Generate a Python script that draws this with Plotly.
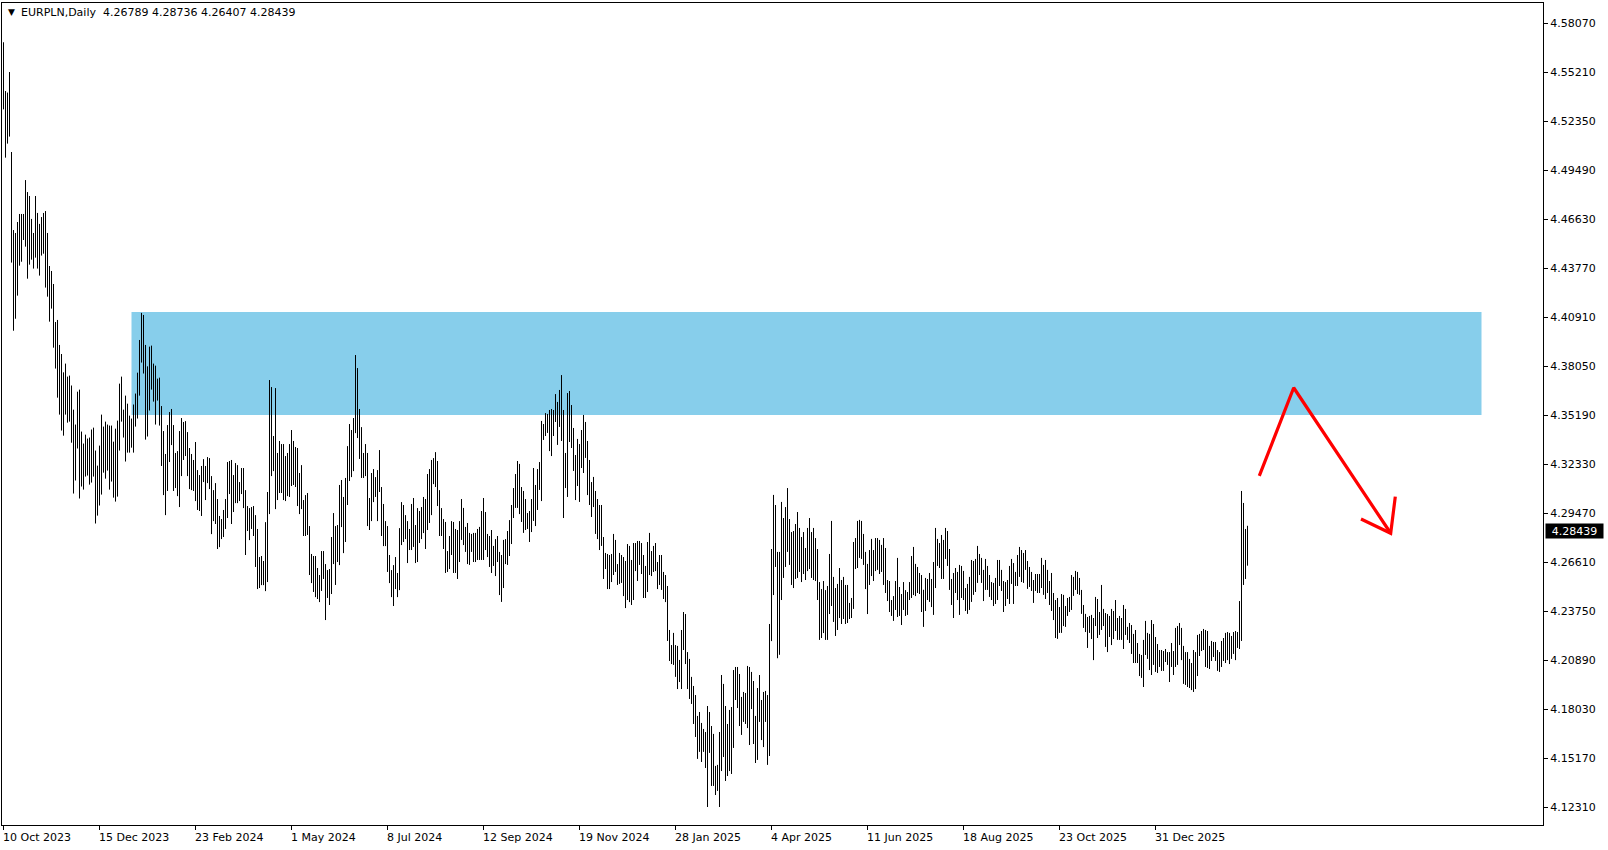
import plotly.graph_objects as go

# ---------------- data ----------------
symbol_title = "EURPLN,Daily"
last_ohlc = [4.26789, 4.28736, 4.26407, 4.28439]

highs = [
    # bars 0-78
    4.5698, 4.5413, 4.5404, 4.5524, 4.5057, 4.4601, 4.4584, 4.4648, 4.4695, 4.4695,
    4.4695, 4.4893, 4.4823, 4.4800, 4.4666, 4.4584, 4.4800, 4.4701, 4.4637, 4.4677,
    4.4701, 4.4712, 4.4584, 4.4391, 4.4362, 4.4286, 4.4064, 4.4076, 4.3930, 4.3877,
    4.3770, 4.3821, 4.3745, 4.3751, 4.3693, 4.3552, 4.3465, 4.3657, 4.3669, 4.3424,
    4.3354, 4.3406, 4.3383, 4.3389, 4.3436, 4.3447, 4.3313, 4.3225, 4.3342, 4.3523,
    4.3453, 4.3482, 4.3465, 4.3459, 4.3459, 4.3365, 4.3441, 4.3488, 4.3704, 4.3745,
    4.3552, 4.3634, 4.3587, 4.3517, 4.3500, 4.3582, 4.3646, 4.3768, 4.3959, 4.4117,
    4.4105, 4.3930, 4.3805, 4.3920, 4.3926, 4.3821, 4.3809, 4.3733, 4.3739,
    # bars 79-153
    4.3573, 4.3427, 4.3293, 4.3462, 4.3538, 4.3556, 4.3462, 4.3299, 4.3310, 4.3427,
    4.3503, 4.3480, 4.3485, 4.3421, 4.3328, 4.3293, 4.3258, 4.3363, 4.3199, 4.3170,
    4.3223, 4.3263, 4.3223, 4.3275, 4.3269, 4.3164, 4.3082, 4.3123, 4.3030, 4.2931,
    4.2913, 4.2966, 4.3030, 4.3246, 4.3252, 4.3258, 4.3170, 4.3240, 4.3228, 4.3129,
    4.3211, 4.3211, 4.3082, 4.2989, 4.2977, 4.2983, 4.2989, 4.2936, 4.2855, 4.2691,
    4.2697, 4.2668, 4.2895, 4.3071, 4.3725, 4.3684, 4.3398, 4.3678, 4.3299, 4.3369,
    4.3351, 4.3351, 4.3281, 4.3299, 4.3351, 4.3433, 4.3369, 4.3334, 4.3328, 4.3182,
    4.3228, 4.3024, 4.3053, 4.3065, 4.2872,
    # bars 154-228
    4.2709, 4.2697, 4.2697, 4.2627, 4.2586, 4.2726, 4.2726, 4.2650, 4.2615, 4.2621,
    4.2808, 4.2948, 4.2872, 4.2878, 4.3112, 4.3141, 4.3042, 4.3153, 4.3339, 4.3468,
    4.3433, 4.3503, 4.3871, 4.3795, 4.3556, 4.3450, 4.3299, 4.3351, 4.3299, 4.3036,
    4.3182, 4.3205, 4.3158, 4.3199, 4.3316, 4.3100, 4.3001, 4.2901, 4.2872, 4.2703,
    4.2615, 4.2644, 4.2691, 4.2598, 4.2860, 4.3012, 4.2995, 4.2936, 4.2901, 4.2855,
    4.3001, 4.3036, 4.2878, 4.2977, 4.2960, 4.2983, 4.3042, 4.3030, 4.3176, 4.3205,
    4.3258, 4.3269, 4.3304, 4.3252, 4.3082, 4.2977, 4.2913, 4.2896, 4.2726, 4.2814,
    4.2901, 4.2896, 4.2855, 4.2849, 4.2901,
    # bars 229-308
    4.3030, 4.2978, 4.2867, 4.2890, 4.2832, 4.2826, 4.2832, 4.2832, 4.2855, 4.2867,
    4.2960, 4.3036, 4.2954, 4.2826, 4.2814, 4.2849, 4.2756, 4.2796, 4.2814, 4.2721,
    4.2703, 4.2791, 4.2796, 4.2843, 4.2907, 4.2995, 4.3094, 4.3176, 4.3252, 4.3235,
    4.3100, 4.3077, 4.3030, 4.2948, 4.2960, 4.3030, 4.3211, 4.3112, 4.3205, 4.3246,
    4.3486, 4.3468, 4.3532, 4.3527, 4.3550, 4.3556, 4.3550, 4.3643, 4.3597, 4.3667,
    4.3754, 4.3550, 4.3299, 4.3649, 4.3661, 4.3579, 4.3445, 4.3287, 4.3381, 4.3351,
    4.3433, 4.3521, 4.3480, 4.3369, 4.3258, 4.3129, 4.3159, 4.3077, 4.3030, 4.2995,
    4.2995, 4.2808, 4.2715, 4.2709, 4.2703, 4.2709, 4.2826, 4.2791, 4.2650, 4.2715,
    # bars 309-383
    4.2703, 4.2691, 4.2668, 4.2767, 4.2756, 4.2674, 4.2773, 4.2773, 4.2785, 4.2785,
    4.2773, 4.2703, 4.2639, 4.2779, 4.2832, 4.2726, 4.2756, 4.2773, 4.2662, 4.2703,
    4.2703, 4.2604, 4.2586, 4.2522, 4.2265, 4.2177, 4.2248, 4.2177, 4.2172, 4.2090,
    4.2265, 4.2370, 4.2358, 4.2136, 4.2096, 4.1991, 4.1938, 4.1885, 4.1763, 4.1786,
    4.1722, 4.1687, 4.1669, 4.1821, 4.1786, 4.1704, 4.1658, 4.1471, 4.1477, 4.1669,
    4.2002, 4.1950, 4.1821, 4.1716, 4.1798, 4.1815, 4.2031, 4.2049, 4.2049, 4.2008,
    4.1874, 4.1903, 4.1897, 4.2055, 4.2049, 4.2020, 4.1967, 4.1763, 4.1926, 4.2002,
    4.1856, 4.1903, 4.1909, 4.1885, 4.2300,
    # bars 384-463
    4.2738, 4.3054, 4.2995, 4.2721, 4.2721, 4.3013, 4.2919, 4.2983, 4.3094, 4.2913,
    4.2837, 4.2843, 4.2884, 4.2954, 4.2861, 4.2808, 4.2837, 4.2744, 4.2861, 4.2919,
    4.2837, 4.2861, 4.2802, 4.2738, 4.2545, 4.2504, 4.2551, 4.2498, 4.2522, 4.2709,
    4.2902, 4.2575, 4.2510, 4.2534, 4.2627, 4.2557, 4.2575, 4.2528, 4.2528, 4.2423,
    4.2452, 4.2779, 4.2802, 4.2902, 4.2908, 4.2902, 4.2826, 4.2721, 4.2651, 4.2732,
    4.2797, 4.2732, 4.2802, 4.2802, 4.2791, 4.2762, 4.2802, 4.2744, 4.2557, 4.2551,
    4.2440, 4.2463, 4.2551, 4.2686, 4.2516, 4.2475, 4.2545, 4.2498, 4.2487, 4.2545,
    4.2697, 4.2750, 4.2651, 4.2633, 4.2598, 4.2586, 4.2500, 4.2569, 4.2563, 4.2598,
    # bars 464-543
    4.2563, 4.2662, 4.2861, 4.2797, 4.2773, 4.2820, 4.2791, 4.2861, 4.2843, 4.2738,
    4.2563, 4.2598, 4.2627, 4.2604, 4.2645, 4.2639, 4.2610, 4.2510, 4.2534, 4.2575,
    4.2674, 4.2668, 4.2680, 4.2756, 4.2709, 4.2686, 4.2616, 4.2680, 4.2639, 4.2586,
    4.2545, 4.2540, 4.2569, 4.2674, 4.2674, 4.2616, 4.2551, 4.2545, 4.2557, 4.2639,
    4.2680, 4.2656, 4.2604, 4.2703, 4.2750, 4.2732, 4.2715, 4.2732, 4.2668, 4.2633,
    4.2604, 4.2557, 4.2592, 4.2592, 4.2592, 4.2686, 4.2645, 4.2674, 4.2616, 4.2551,
    4.2598, 4.2481, 4.2440, 4.2452, 4.2399, 4.2475, 4.2470, 4.2405, 4.2452, 4.2458,
    4.2586, 4.2575, 4.2610, 4.2604, 4.2569, 4.2499, 4.2411, 4.2359, 4.2341, 4.2347,
    # bars 544-622
    4.2353, 4.2335, 4.2458, 4.2446, 4.2370, 4.2528, 4.2388, 4.2364, 4.2358, 4.2347,
    4.2388, 4.2376, 4.2440, 4.2335, 4.2347, 4.2335, 4.2411, 4.2388, 4.2283, 4.2306,
    4.2294, 4.2242, 4.2265, 4.2189, 4.2125, 4.2119, 4.2207, 4.2318, 4.2248, 4.2242,
    4.2323, 4.2300, 4.2224, 4.2183, 4.2148, 4.2148, 4.2142, 4.2154, 4.2136, 4.2136,
    4.2189, 4.2142, 4.2277, 4.2288, 4.2306, 4.2277, 4.2172, 4.2136, 4.2136, 4.2096,
    4.2072, 4.2148, 4.2136, 4.2236, 4.2242, 4.2259, 4.2271, 4.2265, 4.2259, 4.2172,
    4.2201, 4.2195, 4.2195, 4.2148, 4.2136, 4.2201, 4.2218, 4.2248, 4.2253, 4.2248,
    4.2230, 4.2253, 4.2259, 4.2253, 4.2434, 4.3077, 4.3007, 4.2855, 4.28736,
]

lows = [
    # bars 0-78
    4.5306, 4.5024, 4.5106, 4.5147, 4.4411, 4.4013, 4.4083, 4.4218, 4.4393, 4.4416,
    4.4543, 4.4504, 4.4317, 4.4399, 4.4428, 4.4376, 4.4440, 4.4376, 4.4335, 4.4452,
    4.4463, 4.4265, 4.4212, 4.4066, 4.4142, 4.3914, 4.3792, 4.3622, 4.3523, 4.3430,
    4.3400, 4.3523, 4.3476, 4.3482, 4.3359, 4.3062, 4.3138, 4.3325, 4.3033, 4.3103,
    4.3085, 4.3161, 4.3167, 4.3114, 4.3126, 4.3161, 4.2887, 4.2933, 4.2992, 4.3056,
    4.3184, 4.3149, 4.3196, 4.3085, 4.3132, 4.3038, 4.3015, 4.3044, 4.3313, 4.3482,
    4.3389, 4.3249, 4.3301, 4.3301, 4.3330, 4.3301, 4.3453, 4.3500, 4.3634, 4.3827,
    4.3763, 4.3377, 4.3395, 4.3547, 4.3669, 4.3599, 4.3465, 4.3605, 4.3459,
    # bars 79-153
    4.3223, 4.3053, 4.2936, 4.3077, 4.3246, 4.3345, 4.3077, 4.3094, 4.3047, 4.2983,
    4.3164, 4.3258, 4.3281, 4.3164, 4.3088, 4.3082, 4.3077, 4.3018, 4.2966, 4.2960,
    4.2931, 4.3129, 4.3024, 4.3123, 4.3088, 4.2825, 4.2901, 4.2884, 4.2738, 4.2749,
    4.2796, 4.2808, 4.2855, 4.2919, 4.3059, 4.2884, 4.2954, 4.3006, 4.3006, 4.3018,
    4.3059, 4.2977, 4.2703, 4.2843, 4.2790, 4.2855, 4.2814, 4.2633, 4.2504, 4.2510,
    4.2527, 4.2527, 4.2492, 4.2545, 4.2942, 4.3164, 4.3193, 4.2971, 4.3024, 4.3065,
    4.3065, 4.3024, 4.3018, 4.3047, 4.3042, 4.3106, 4.3112, 4.3100, 4.2989, 4.2942,
    4.2971, 4.2814, 4.2814, 4.2820, 4.2586,
    # bars 154-228
    4.2539, 4.2487, 4.2457, 4.2446, 4.2428, 4.2493, 4.2563, 4.2323, 4.2452, 4.2411,
    4.2475, 4.2650, 4.2528, 4.2662, 4.2644, 4.2866, 4.2714, 4.2779, 4.2995, 4.3135,
    4.3158, 4.3193, 4.3415, 4.3386, 4.3264, 4.3153, 4.3153, 4.3164, 4.2872, 4.2849,
    4.2901, 4.3012, 4.3042, 4.2901, 4.3071, 4.2814, 4.2755, 4.2755, 4.2604, 4.2539,
    4.2457, 4.2405, 4.2504, 4.2457, 4.2498, 4.2761, 4.2779, 4.2796, 4.2656, 4.2732,
    4.2732, 4.2750, 4.2656, 4.2662, 4.2773, 4.2796, 4.2831, 4.2738, 4.2849, 4.2890,
    4.2936, 4.3117, 4.3100, 4.2989, 4.2814, 4.2814, 4.2738, 4.2598, 4.2604, 4.2621,
    4.2703, 4.2598, 4.2598, 4.2563, 4.2662,
    # bars 229-308
    4.2791, 4.2761, 4.2721, 4.2650, 4.2645, 4.2721, 4.2662, 4.2662, 4.2674, 4.2674,
    4.2674, 4.2674, 4.2732, 4.2691, 4.2633, 4.2598, 4.2639, 4.2580, 4.2662, 4.2469,
    4.2429, 4.2510, 4.2650, 4.2645, 4.2697, 4.2767, 4.2919, 4.2978, 4.2978, 4.2942,
    4.2896, 4.2832, 4.2849, 4.2855, 4.2779, 4.2837, 4.2902, 4.2872, 4.2966, 4.3083,
    4.3018, 4.3375, 4.3398, 4.3416, 4.3310, 4.3281, 4.3398, 4.3480, 4.3346, 4.3451,
    4.3369, 4.2919, 4.3094, 4.3042, 4.3363, 4.3328, 4.3194, 4.3024, 4.3106, 4.3013,
    4.3211, 4.3182, 4.3270, 4.3053, 4.2995, 4.2925, 4.2983, 4.2826, 4.2796, 4.2732,
    4.2756, 4.2563, 4.2621, 4.2504, 4.2504, 4.2545, 4.2586, 4.2604, 4.2528, 4.2534,
    # bars 309-383
    4.2540, 4.2463, 4.2393, 4.2440, 4.2428, 4.2411, 4.2440, 4.2609, 4.2551, 4.2645,
    4.2592, 4.2452, 4.2452, 4.2487, 4.2586, 4.2580, 4.2604, 4.2609, 4.2504, 4.2528,
    4.2499, 4.2446, 4.2428, 4.2201, 4.2084, 4.2066, 4.2061, 4.1991, 4.1920, 4.1961,
    4.1920, 4.2148, 4.2066, 4.1920, 4.1862, 4.1833, 4.1716, 4.1640, 4.1512, 4.1553,
    4.1494, 4.1553, 4.1459, 4.1231, 4.1547, 4.1354, 4.1354, 4.1301, 4.1325, 4.1231,
    4.1441, 4.1523, 4.1383, 4.1412, 4.1441, 4.1424, 4.1576, 4.1856, 4.1809, 4.1704,
    4.1652, 4.1728, 4.1716, 4.1692, 4.1593, 4.1803, 4.1599, 4.1488, 4.1506, 4.1728,
    4.1622, 4.1581, 4.1728, 4.1477, 4.1529,
    # bars 384-463
    4.2200, 4.2469, 4.2633, 4.2100, 4.2120, 4.2440, 4.2569, 4.2633, 4.2721, 4.2645,
    4.2528, 4.2510, 4.2563, 4.2569, 4.2604, 4.2545, 4.2592, 4.2557, 4.2609, 4.2621,
    4.2569, 4.2557, 4.2551, 4.2440, 4.2207, 4.2218, 4.2247, 4.2207, 4.2207, 4.2358,
    4.2405, 4.2312, 4.2230, 4.2265, 4.2335, 4.2300, 4.2329, 4.2300, 4.2306, 4.2329,
    4.2335, 4.2388, 4.2621, 4.2627, 4.2686, 4.2680, 4.2645, 4.2504, 4.2358, 4.2528,
    4.2580, 4.2551, 4.2609, 4.2616, 4.2592, 4.2604, 4.2528, 4.2481, 4.2434, 4.2370,
    4.2347, 4.2318, 4.2382, 4.2341, 4.2347, 4.2294, 4.2382, 4.2347, 4.2353, 4.2440,
    4.2452, 4.2469, 4.2463, 4.2481, 4.2475, 4.2370, 4.2283, 4.2376, 4.2440, 4.2429,
    # bars 464-543
    4.2399, 4.2353, 4.2510, 4.2639, 4.2627, 4.2563, 4.2563, 4.2680, 4.2639, 4.2499,
    4.2411, 4.2335, 4.2481, 4.2440, 4.2353, 4.2452, 4.2440, 4.2376, 4.2359, 4.2382,
    4.2429, 4.2470, 4.2487, 4.2540, 4.2586, 4.2540, 4.2434, 4.2499, 4.2499, 4.2458,
    4.2440, 4.2405, 4.2417, 4.2440, 4.2522, 4.2493, 4.2370, 4.2405, 4.2446, 4.2417,
    4.2534, 4.2417, 4.2522, 4.2522, 4.2575, 4.2545, 4.2540, 4.2616, 4.2505, 4.2516,
    4.2493, 4.2423, 4.2493, 4.2481, 4.2481, 4.2510, 4.2470, 4.2446, 4.2481, 4.2411,
    4.2376, 4.2323, 4.2218, 4.2213, 4.2248, 4.2248, 4.2288, 4.2283, 4.2347, 4.2370,
    4.2382, 4.2464, 4.2499, 4.2475, 4.2470, 4.2359, 4.2277, 4.2253, 4.2160, 4.2248,
    # bars 544-622
    4.2212, 4.2089, 4.2288, 4.2218, 4.2236, 4.2265, 4.2288, 4.2166, 4.2136, 4.2224,
    4.2177, 4.2212, 4.2259, 4.2207, 4.2207, 4.2207, 4.2154, 4.2236, 4.2207, 4.2189,
    4.2125, 4.2072, 4.2072, 4.2072, 4.1996, 4.1985, 4.1932, 4.2119, 4.2096, 4.2031,
    4.2002, 4.2061, 4.2020, 4.2014, 4.2049, 4.2026, 4.2026, 4.2078, 4.2061, 4.1961,
    4.2049, 4.2002, 4.2049, 4.2061, 4.2177, 4.2089, 4.1950, 4.1944, 4.1932, 4.1926,
    4.1914, 4.1903, 4.1920, 4.1996, 4.2113, 4.2142, 4.2148, 4.2049, 4.2043, 4.2037,
    4.2084, 4.2107, 4.2084, 4.2026, 4.2020, 4.2049, 4.2084, 4.2072, 4.2089, 4.2066,
    4.2096, 4.2125, 4.2089, 4.2160, 4.2154, 4.2201, 4.2528, 4.2563, 4.26407,
]

date_labels = ["10 Oct 2023", "15 Dec 2023", "23 Feb 2024", "1 May 2024", "8 Jul 2024",
               "12 Sep 2024", "19 Nov 2024", "28 Jan 2025", "4 Apr 2025", "11 Jun 2025",
               "18 Aug 2025", "23 Oct 2025", "31 Dec 2025"]
bars_per_label = 48

price_ticks = [4.12310, 4.15170, 4.18030, 4.20890, 4.23750, 4.26610, 4.29470, 4.32330,
               4.35190, 4.38050, 4.40910, 4.43770, 4.46630, 4.49490, 4.52350, 4.55210,
               4.58070]

# supply zone (bar index from/to, price bottom/top)
zone_bars = [64, 739]
zone_prices = [4.3521, 4.4122]

# hand-drawn projection arrow (bar index, price)
arrow_bars = [627.9, 645.1, 693.6]
arrow_prices = [4.3165, 4.3680, 4.2830]
head_bars = [678.75, 693.6, 695.9]
head_prices = [4.2913, 4.2830, 4.3044]

# ---------------- figure ----------------
FONT = "DejaVu Sans"
n = len(highs)
bx, by = [], []
for i in range(n):
    bx += [i, i, None]
    by += [lows[i], highs[i], None]

fig = go.Figure()
fig.add_trace(go.Scatter(x=bx, y=by, mode="lines",
                         line=dict(color="black", width=1),
                         hoverinfo="skip", showlegend=False))
fig.add_trace(go.Scatter(x=arrow_bars, y=arrow_prices, mode="lines",
                         line=dict(color="#ff0000", width=3.2),
                         hoverinfo="skip", showlegend=False))
fig.add_trace(go.Scatter(x=head_bars, y=head_prices, mode="lines",
                         line=dict(color="#ff0000", width=3.2),
                         hoverinfo="skip", showlegend=False))

fig.add_shape(type="rect", xref="x", yref="y",
              x0=zone_bars[0], x1=zone_bars[1], y0=zone_prices[0], y1=zone_prices[1],
              fillcolor="#87CEEB", line=dict(width=0), layer="below")

tick_idx = [k * bars_per_label for k in range(len(date_labels))]

annotations = []
for idx, lab in zip(tick_idx, date_labels):
    annotations.append(dict(x=idx, y=0, xref="x", yref="paper", text=lab,
                            showarrow=False, xanchor="left", yanchor="middle",
                            xshift=-3, yshift=-12,
                            font=dict(family=FONT, size=11, color="black")))

header = "%s  %.5f %.5f %.5f %.5f" % (symbol_title, *last_ohlc)
annotations.append(dict(x=0, y=1, xref="paper", yref="paper", text=header,
                        showarrow=False, xanchor="left", yanchor="middle",
                        xshift=17, yshift=-9,
                        font=dict(family=FONT, size=11, color="black")))
annotations.append(dict(x=0, y=1, xref="paper", yref="paper", text="▼",
                        showarrow=False, xanchor="center", yanchor="middle",
                        xshift=9, yshift=-9,
                        font=dict(family=FONT, size=9, color="black")))
annotations.append(dict(x=1, y=last_ohlc[3], xref="paper", yref="y",
                        text="%.5f" % last_ohlc[3], showarrow=False,
                        xanchor="left", yanchor="middle", xshift=2,
                        width=55, height=12, align="center", borderpad=1,
                        bgcolor="black",
                        font=dict(family=FONT, size=11, color="white")))

W, H = 1608, 850
ml, mr, mt, mb = 2, 65, 3, 25
fig.update_layout(
    width=W, height=H,
    margin=dict(l=ml, r=mr, t=mt, b=mb, autoexpand=False),
    paper_bgcolor="white", plot_bgcolor="white",
    showlegend=False,
    annotations=annotations,
    xaxis=dict(range=[-0.75, 769.75], showgrid=False, zeroline=False,
               automargin=False,
               showline=True, mirror=True, linecolor="black", linewidth=1,
               tickmode="array", tickvals=tick_idx, showticklabels=False,
               ticks="outside", ticklen=4, tickcolor="black"),
    yaxis=dict(range=[4.11259, 4.59273], side="right", showgrid=False,
               zeroline=False, automargin=False,
               showline=True, mirror=True, linecolor="black",
               linewidth=1, tickmode="array", tickvals=price_ticks,
               ticktext=["%.5f" % v for v in price_ticks],
               ticks="outside", ticklen=4, tickcolor="black",
               tickfont=dict(family=FONT, size=11, color="black")),
    font=dict(family=FONT, size=11, color="black"),
)

fig.write_html("out.html", config={"displayModeBar": False},
               post_script="document.body.style.margin='0';document.body.style.overflow='hidden';")
